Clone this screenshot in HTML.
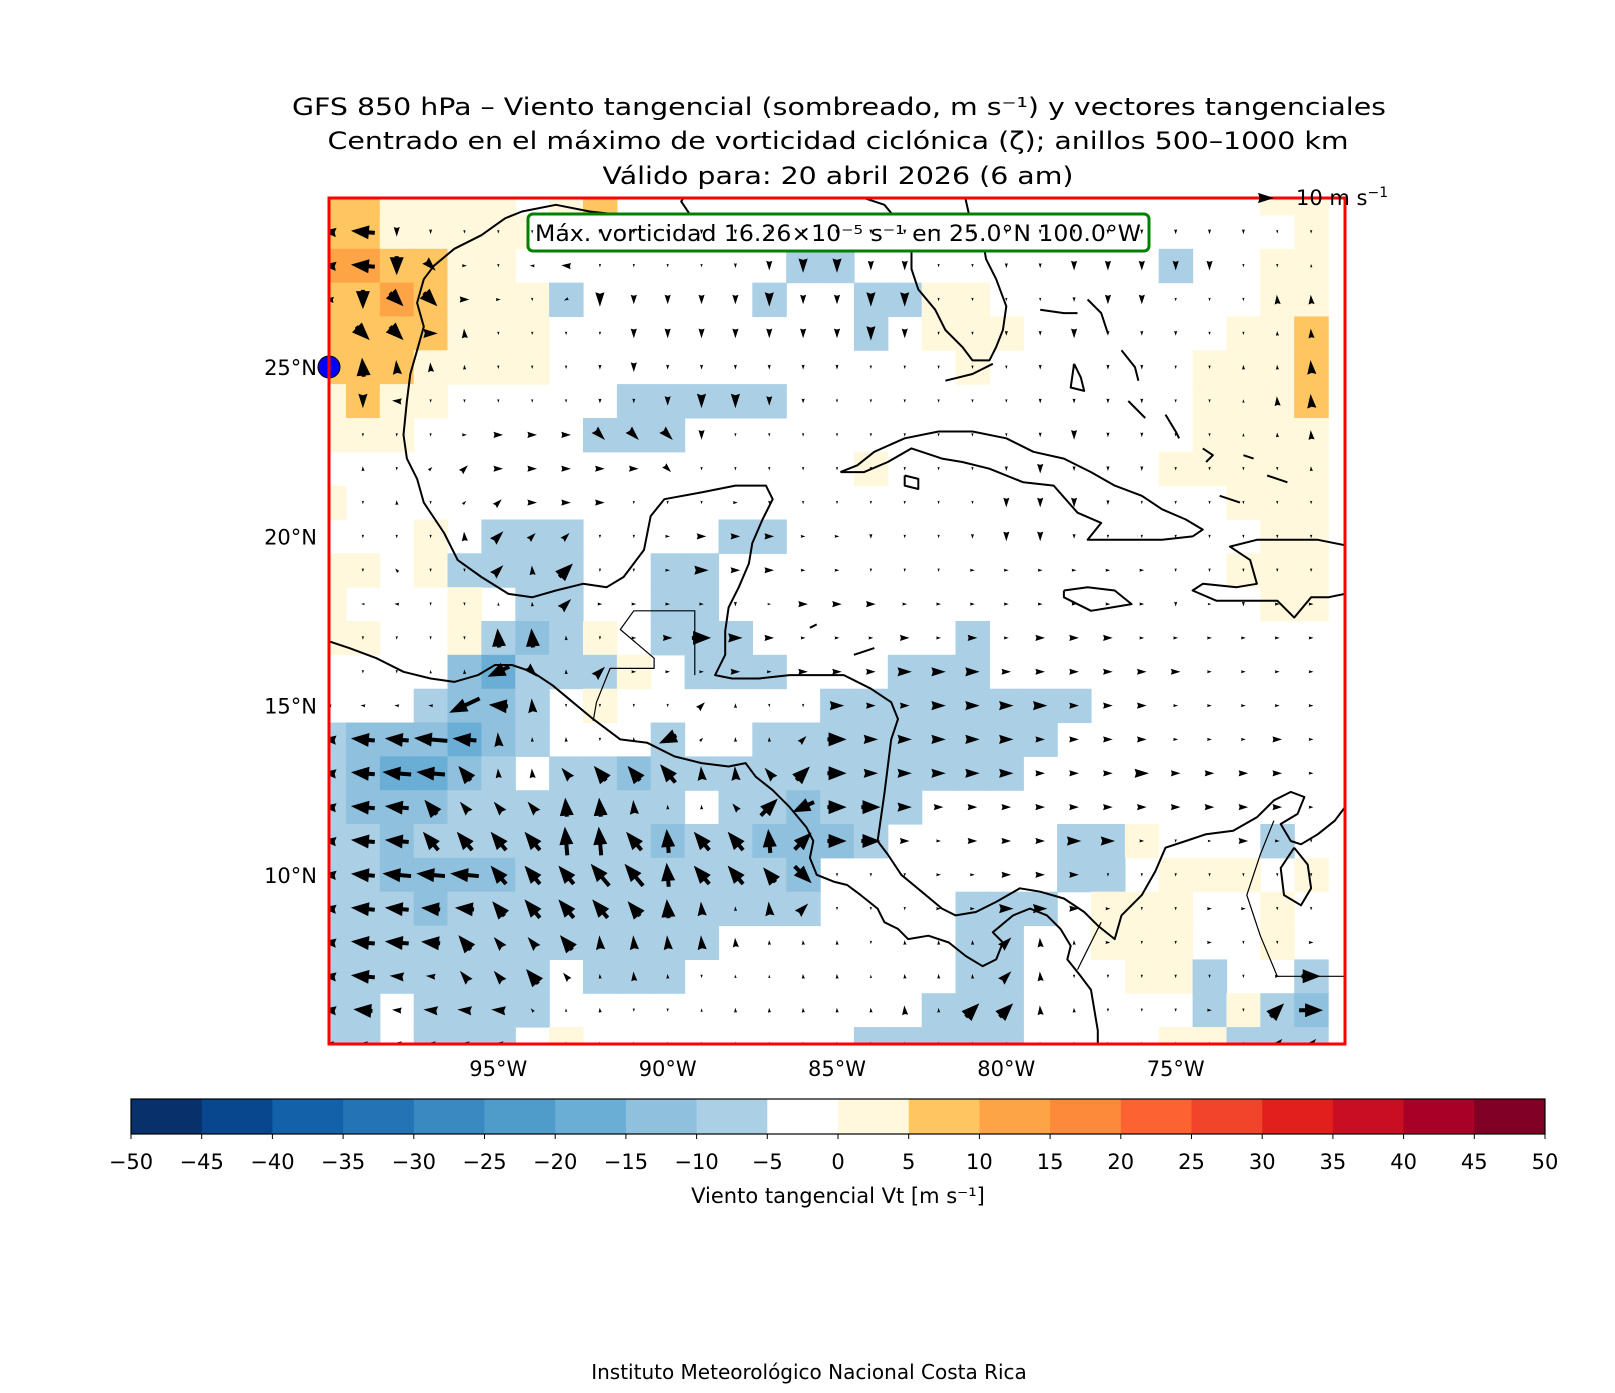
<!DOCTYPE html>
<html><head><meta charset="utf-8"><title>GFS 850 hPa Viento tangencial</title>
<style>
html,body{margin:0;padding:0;background:#fff;}
svg{display:block;font-family:"DejaVu Sans","Liberation Sans",sans-serif;}
</style></head>
<body>
<svg id="fig" width="1615" height="1393" viewBox="0 0 1615 1393" xmlns="http://www.w3.org/2000/svg">
<rect x="0" y="0" width="1615" height="1393" fill="#fff"/>
<g font-size="24" fill="#000" text-anchor="middle">
<text x="839" y="115" textLength="1094" lengthAdjust="spacingAndGlyphs">GFS 850 hPa – Viento tangencial (sombreado, m s⁻¹) y vectores tangenciales</text>
<text x="838" y="149" textLength="1021" lengthAdjust="spacingAndGlyphs">Centrado en el máximo de vorticidad ciclónica (ζ); anillos 500–1000 km</text>
<text x="838" y="184" textLength="471" lengthAdjust="spacingAndGlyphs">Válido para: 20 abril 2026 (6 am)</text>
</g>
<defs><clipPath id="plotclip"><rect x="329" y="198" width="1016" height="846"/></clipPath></defs>
<g id="shade" clip-path="url(#plotclip)"></g>
<g id="coast" clip-path="url(#plotclip)" fill="none" stroke="#000" stroke-width="2" stroke-linejoin="round"></g>
<g id="infobox">
<rect x="528" y="214" width="621" height="37" rx="5" fill="#fff" stroke="#008000" stroke-width="3"/>
<text x="838" y="241" font-size="22" text-anchor="middle" textLength="606" lengthAdjust="spacingAndGlyphs">Máx. vorticidad 16.26×10⁻⁵ s⁻¹ en 25.0°N 100.0°W</text>
</g>
<g id="vectors" clip-path="url(#plotclip)" fill="#000"></g>
<circle cx="329" cy="367" r="11" fill="#0000ff" stroke="#000" stroke-width="1"/>
<rect x="329" y="198" width="1016" height="846" fill="none" stroke="#ff0000" stroke-width="3"/>
<g id="quiverkey">
<text x="1296" y="205" font-size="21">10 m s<tspan font-size="14" dy="-8">−1</tspan></text>
</g>
<g id="axes" font-size="21"></g>
<g id="cbar"></g>
<text x="838" y="1203" font-size="21" text-anchor="middle">Viento tangencial Vt [m s⁻¹]</text>
<text x="809" y="1379" font-size="20" text-anchor="middle">Instituto Meteorológico Nacional Costa Rica</text>
</svg>
<script>
// ---------- data ----------
const shadeLats = [30,29,28,27,26,25,24,23,22,21,20,19,18,17,16,15,14,13,12,11,10,9,8,7,6,5];
const shadeLonStart = -100;
// run-length encoded rows (count + code), 30 cells per row, lon -100..-71
const shadeRowsRLE = [
"2o4y1.1y1o19.2y",
"2o5y16.1b5.1y",
"2O2o2y8.2b9.1b2.2y",
"2o1O1o3y1b5.1b2.2b2y8.2y",
"4o3y9.1b1.3y6.2y1o",
"3o4y12.1y6.3y1o",
"1y1o2y5.5b12.3y1o",
"3y5.3b15.4y",
"16.1y8.5y",
"1y26.3y",
"3.1y1.3b4.2b14.2y",
"2y1.1y4b2.2b15.3y",
"1y3.1y1.2b2.2b16.2y",
"2y2.1y1b1B1b1y1.3b6.1b10.",
"4.1B1C3b1y1.3b3.3b10.",
"3.1b2B1b1.1y6.8b7.",
"1b3B1C1B1b3.1b2.9b8.",
"1b1B2C1B1b1.2b1B4b7b9.",
"1b3B7b1.2b1B3b12.",
"2b1B7b1B2b3B1b5.2b1y3.1b1.",
"2b4B8b1B7.2b1.3y1.1y",
"3b1B11b4.3b1.3y2.1y1.",
"12b7.2b2.3y2.1y1.",
"7b1.3b8.2b3.2y1b2.1b",
"2b1.4b11.3b5.1b1y1b1B",
"2b1.3b1.1y8.5b4.2y3b"
];
const shadeCodes = ["C","B","b",".","y","o","O"];
const shadeValues = [-17.5,-12.5,-7.5,-2.5,2.5,7.5,12.5];

const vecLats = [29,28,27,26,25,24,23,22,21,20,19,18,17,16,15,14,13,12,11,10,9,8,7,6,5];
const vecLons = [-100,-99,-98,-97,-96,-95,-94,-93,-92,-91,-90,-89,-88,-87,-86,-85,-84,-83,-82,-81,-80,-79,-78,-77,-76,-75,-74,-73,-72,-71];
const vecDirRows = [
"lldd...ddddddddddddddddddddd..",
"lldcr.ll....dddddd..ddddddd..u",
"ldccrr.zdddddddddd....ddd...uu",
".ccru....ddddddddd..dddddd..uu",
".uuuu...dddddddd.....dddd..uuu",
".dl....dddddddd......dddd..uuu",
"....rrrrcccd..d......dddd..uuu",
".u.eerrrrrc.........ddddd....u",
"..u.eerrr...r......dddddd.....",
"....ueee..rrrrrrd..dddd.......",
"..q..eue..rrrrrr...rrrrrr.....",
".ll..uuerrrr.rrrrrrrrrrrr.r.rr",
".....uuu.rrrrrrrrrrrrrrrrrrrrr",
"...uuzcuerrrrrrrrrrrrrrrrrrrrr",
"llllzlu....eu..rrrrrrrrrrrrrrr",
"llllluuu.uzeuuerrrrrrrrrrrrrrr",
"llllquuqqqquuqerrrrrrrrrrrrrrr",
"lllqqqquuuuuqezrrrrrrrrrrrrrrr",
"lllqqqquuquqquerrrrrrrrrr.rrr.",
"lllllqqqqquqqqc...rrrrr.......",
"lllllqqqqquuuue...rrrrrr..rr..",
"llllqqqquuuuuuuu.uuueuur..r..r",
"llllqqqquuu.uuuuuuuueu......rr",
"llllllquu..uuuuuuuueeuu...r.er",
"llllllluuuuuuuuuuuuuuuuuuuuuee"
];
const vecSpeedClassRows = [
"352100011111111111111111111100",
"354310120000123322001122222000",
"244421013222232233000012200022",
"044320000222222232001121110012",
"043210001211111100000111100113",
"032000001123321000000111100023",
"000012223332000000000121100012",
"010122222220000000001211100001",
"001012222000100000002221000000",
"000023220012221110012210000000",
"001003240013221100011111100000",
"001000131111102221111111110111",
"000004410124321112121222111111",
"000015313111212223332222221111",
"111174300002100322333322211111",
"355753110141112433333222211121",
"356642234453334433333222322221",
"355433344311255443222222222221",
"355555566555555442122233100210",
"356665556655545000112220000000",
"355444555443133000113321001100",
"355443343333211101113211001001",
"353233421210001101113200000014",
"342333101000111112144210001045",
"222222111111111111111111111133"
];
const speedPerClass = 3;      // m/s per speed class
const refSpeed = 10;          // quiver key (m/s)

const cbarLevels = [-50,-45,-40,-35,-30,-25,-20,-15,-10,-5,0,5,10,15,20,25,30,35,40,45,50];
const cbarColors = ["#08306b","#08478d","#1361a9","#2473b5","#3a89c1","#4f9cca","#6aaed6","#8fc1de","#abd0e6","#ffffff","#fff8dc","#fec561","#fda446","#fc8a3a","#fc6232","#f2432b","#e31f1d","#c90d22","#a80026","#800026"];

const xTickLons = [-95,-90,-85,-80,-75];
const xTickLabels = ["95°W","90°W","85°W","80°W","75°W"];
const yTickLats = [25,20,15,10];
const yTickLabels = ["25°N","20°N","15°N","10°N"];

const coastLines = [
 [[-88.3,30.5],[-89.4,30.2],[-89.6,29.9],[-89.2,29.3],[-89.9,29.1],[-90.6,29.2],[-91.4,29.5],[-92.3,29.6],[-93.3,29.8],[-94.3,29.6],[-94.8,29.4],[-95.5,28.9],[-96.3,28.5],[-96.9,28.0],[-97.2,27.6],[-97.4,26.9],[-97.2,26.2],[-97.4,25.5],[-97.6,24.8],[-97.7,24.0],[-97.8,23.0],[-97.7,22.3],[-97.4,21.7],[-97.2,21.0],[-96.6,20.1],[-96.2,19.3],[-95.5,18.8],[-94.7,18.3],[-94.0,18.2],[-93.3,18.4],[-92.5,18.6],[-91.8,18.5],[-91.3,18.8],[-90.7,19.6],[-90.5,20.6],[-90.1,21.1],[-89.0,21.3],[-88.0,21.5],[-87.1,21.5],[-86.9,21.1],[-87.2,20.5],[-87.5,19.8],[-87.6,19.2],[-87.9,18.5],[-88.2,17.9],[-88.3,17.2],[-88.3,16.5],[-88.6,15.9],[-88.1,15.8],[-87.3,15.8],[-86.4,15.9],[-85.5,15.9],[-84.8,15.9],[-84.0,15.5],[-83.4,15.1],[-83.2,14.6],[-83.4,14.0],[-83.5,13.2],[-83.6,12.4],[-83.7,11.7],[-83.8,11.0],[-83.5,10.6],[-83.1,10.0],[-82.5,9.5],[-81.9,9.0],[-81.5,8.8],[-80.9,8.9],[-80.3,9.2],[-79.6,9.6],[-79.0,9.5],[-78.3,9.3],[-77.7,8.9],[-77.3,8.5],[-76.8,8.1],[-76.6,8.8],[-76.0,9.4],[-75.6,10.1],[-75.3,10.8],[-74.7,11.0],[-74.1,11.2],[-73.3,11.3],[-72.6,11.7],[-72.1,12.2],[-71.6,12.45],[-71.2,12.3],[-71.4,11.8],[-71.9,11.5],[-71.6,11.0],[-71.3,10.9],[-70.8,11.2],[-70.3,11.6],[-70.0,12.0],[-69.8,12.2]],
 [[-100.3,17.0],[-99.4,16.7],[-98.6,16.4],[-97.8,16.0],[-97.0,15.8],[-96.3,15.7],[-95.6,15.9],[-95.1,16.2],[-94.6,16.2],[-94.0,16.0],[-93.4,15.6],[-92.8,15.1],[-92.2,14.6],[-91.4,14.0],[-90.6,13.9],[-89.8,13.5],[-89.0,13.3],[-88.2,13.2],[-87.7,13.3],[-87.4,12.9],[-86.9,12.5],[-86.4,12.0],[-85.9,11.4],[-85.7,11.0],[-85.8,10.5],[-85.6,10.0],[-85.1,9.8],[-84.7,9.7],[-84.3,9.4],[-83.8,9.0],[-83.6,8.6],[-83.2,8.4],[-82.9,8.1],[-82.3,8.2],[-81.7,8.0],[-81.2,7.6],[-80.7,7.3],[-80.3,7.5],[-80.1,8.0],[-80.4,8.3],[-79.8,8.8],[-79.3,9.0],[-78.8,8.8],[-78.4,8.4],[-78.1,7.9],[-78.2,7.5],[-77.8,7.0],[-77.5,6.6],[-77.4,6.0],[-77.3,5.4],[-77.3,4.7]],
 [[-84.8,30.3],[-84.2,30.0],[-83.6,29.8],[-83.1,29.2],[-82.8,28.6],[-82.8,27.9],[-82.6,27.3],[-82.1,26.7],[-81.8,26.1],[-81.3,25.6],[-81.0,25.2],[-80.5,25.2],[-80.3,25.6],[-80.1,26.1],[-80.0,26.8],[-80.3,27.6],[-80.6,28.2],[-80.7,28.8],[-81.1,29.5],[-81.3,30.4]],
 [[-80.4,25.1],[-81.0,24.8],[-81.8,24.6]],
 [[-84.9,21.9],[-84.4,22.1],[-83.9,22.5],[-83.0,22.9],[-82.0,23.1],[-81.0,23.1],[-80.0,22.9],[-79.2,22.5],[-78.3,22.3],[-77.5,21.9],[-76.8,21.5],[-76.0,21.2],[-75.4,20.8],[-74.7,20.5],[-74.2,20.2],[-74.5,20.0],[-75.4,19.9],[-76.4,19.9],[-77.6,19.9],[-77.2,20.4],[-77.9,20.7],[-78.6,21.5],[-79.5,21.6],[-80.5,22.0],[-81.3,22.2],[-81.9,22.3],[-82.8,22.6],[-83.5,22.2],[-84.2,21.9],[-84.9,21.9]],
 [[-83.0,21.8],[-82.6,21.7],[-82.6,21.4],[-83.0,21.5],[-83.0,21.8]],
 [[-78.3,18.4],[-77.6,18.5],[-76.8,18.4],[-76.3,18.0],[-76.9,17.9],[-77.5,17.8],[-78.3,18.2],[-78.3,18.4]],
 [[-69.8,19.7],[-70.8,19.9],[-71.7,19.9],[-72.6,19.9],[-73.4,19.7],[-72.8,19.3],[-72.6,18.6],[-73.2,18.5],[-74.2,18.6],[-74.5,18.4],[-73.8,18.1],[-72.9,18.1],[-72.0,18.1],[-71.5,17.6],[-71.0,18.2],[-70.5,18.2],[-70.0,18.3],[-69.8,18.4]],
 [[-79.0,26.7],[-78.3,26.6],[-77.9,26.6]],
 [[-77.6,27.0],[-77.2,26.6],[-77.0,26.0]],
 [[-78.0,25.1],[-77.8,24.7],[-77.7,24.3],[-78.1,24.4],[-78.0,25.1]],
 [[-76.6,25.5],[-76.2,25.0],[-76.1,24.6]],
 [[-76.4,24.0],[-75.9,23.5]],
 [[-75.3,23.6],[-75.0,23.1],[-74.9,22.9]],
 [[-74.2,22.6],[-73.9,22.4],[-74.1,22.2]],
 [[-73.7,21.2],[-73.1,21.0]],
 [[-72.3,21.8],[-71.7,21.6]],
 [[-73.0,22.4],[-72.7,22.3]],
 [[-85.8,17.3],[-85.6,17.4]],[[-84.5,16.5],[-83.9,16.7]],
 [[-71.5,10.8],[-71.9,10.2],[-71.8,9.4],[-71.3,9.1],[-71.0,9.6],[-71.1,10.3],[-71.5,10.8]]
];
const borderLines = [
 [[-92.2,14.55],[-92.1,15.1],[-91.7,16.1],[-90.4,16.1],[-90.4,16.4],[-91.4,17.25],[-91.0,17.8],[-89.2,17.8],[-89.2,15.9]],
 [[-72.1,11.6],[-72.5,10.6],[-72.9,9.4],[-72.5,8.2],[-72.0,7.0],[-71.0,7.0],[-70.0,7.0]],
 [[-77.9,7.2],[-77.2,8.6]]
];

// ---------- axis functions ----------
const X0 = 329, Y0 = 198, PW = 1016, PH = 846, LON0 = -100, LON1 = -70, LAT0 = 5, LAT1 = 30;
function xOf(lon){ return X0 + (lon - LON0) / (LON1 - LON0) * PW; }
function yOf(lat){ return Y0 + (LAT1 - lat) / (LAT1 - LAT0) * PH; }
const pxPerMs = 1.6;
const NS = "http://www.w3.org/2000/svg";
function mk(tag, attrs){ const e = document.createElementNS(NS, tag); for (const k in attrs) e.setAttribute(k, attrs[k]); return e; }
function decodeRLE(s){
  let out = "", num = "";
  for (const ch of s){
    if (ch >= "0" && ch <= "9") num += ch;
    else { out += ch.repeat(parseInt(num || "1", 10)); num = ""; }
  }
  return out;
}
function colorFor(v){
  for (let i = 0; i < cbarColors.length; i++){
    if (v >= cbarLevels[i] && v < cbarLevels[i+1]) return cbarColors[i];
  }
  return "#fff";
}

// ---------- shading ----------
const gShade = document.getElementById("shade");
for (let r = 0; r < shadeRowsRLE.length; r++){
  const lat = shadeLats[r];
  const row = decodeRLE(shadeRowsRLE[r]);
  for (let c = 0; c < row.length && c < 30; c++){
    const code = row[c];
    const idx = shadeCodes.indexOf(code);
    if (idx < 0 || code === ".") continue;
    const lon = shadeLonStart + c;
    const x1 = xOf(lon - 0.5), x2 = xOf(lon + 0.5), y1 = yOf(lat + 0.5), y2 = yOf(lat - 0.5);
    const cell = mk("rect", {x: x1.toFixed(1), y: y1.toFixed(1), width: (x2 - x1 + 0.6).toFixed(1), height: (y2 - y1 + 0.6).toFixed(1), fill: colorFor(shadeValues[idx])});
    
    
    gShade.appendChild(cell);
  }
}

// ---------- coastlines ----------
const gCoast = document.getElementById("coast");
function pathFrom(pts){ return pts.map((p, i) => (i ? "L" : "M") + xOf(p[0]).toFixed(1) + " " + yOf(p[1]).toFixed(1)).join(" "); }
coastLines.forEach(pts => {
  const p = mk("path", {d: pathFrom(pts)});
  
  
  gCoast.appendChild(p);
});
borderLines.forEach(pts => {
  const p = mk("path", {d: pathFrom(pts), "stroke-width": "1.2"});
  
  
  gCoast.appendChild(p);
});

// ---------- vectors ----------
const dirAngles = {r:0, e:45, u:95, q:130, l:175, z:205, d:270, c:315};
function arrowPoints(cx, cy, angDeg, L){
  const a = angDeg * Math.PI / 180;
  const ux = Math.cos(a), uy = -Math.sin(a);
  const px = -uy, py = ux;
  const tx = cx - ux * L / 2, ty = cy - uy * L / 2;
  const hx = cx + ux * L / 2, hy = cy + uy * L / 2;
  const HL = 18;
  let pts;
  if (L <= HL){
    const w = 0.32 * L;
    const nx = tx + ux * L * 0.1, ny = ty + uy * L * 0.1;
    pts = [[hx, hy], [tx + px * w, ty + py * w], [nx, ny], [tx - px * w, ty - py * w]];
  } else {
    const bx = hx - ux * HL, by = hy - uy * HL;
    pts = [[tx + px * 2, ty + py * 2], [bx + px * 2, by + py * 2], [bx + px * 7, by + py * 7], [hx, hy], [bx - px * 7, by - py * 7], [bx - px * 2, by - py * 2], [tx - px * 2, ty - py * 2]];
  }
  return pts.map(p => p[0].toFixed(1) + "," + p[1].toFixed(1)).join(" ");
}
const gVec = document.getElementById("vectors");
for (let r = 0; r < vecLats.length; r++){
  const lat = vecLats[r];
  for (let c = 0; c < vecLons.length; c++){
    const lon = vecLons[c];
    const dch = vecDirRows[r][c];
    const cls = parseInt(vecSpeedClassRows[r][c] || "0", 10);
    const speed = cls * speedPerClass;
    const cx = xOf(lon), cy = yOf(lat);
    let L = speed * pxPerMs;
    const ang = dirAngles[dch] !== undefined ? dirAngles[dch] : 270;
    if (L < 3.5) L = 3.5;
    const arrow = mk("polygon", {points: arrowPoints(cx, cy, ang, L)});
    
    
    gVec.appendChild(arrow);
  }
}

const gKey = document.getElementById("quiverkey");
const keyArrow = mk("polygon", {points: arrowPoints(1266, 198, 0, refSpeed * pxPerMs)});


gKey.appendChild(keyArrow);

// ---------- axis labels ----------
const gAx = document.getElementById("axes");
xTickLons.forEach((lon, i) => {
  const t = mk("text", {x: xOf(lon).toFixed(1), y: 1076, "text-anchor": "middle"});
  t.textContent = xTickLabels[i];
  
  
  gAx.appendChild(t);
});
yTickLats.forEach((lat, i) => {
  const t = mk("text", {x: 317, y: (yOf(lat) + 8).toFixed(1), "text-anchor": "end"});
  t.textContent = yTickLabels[i];
  
  
  gAx.appendChild(t);
});

// ---------- colorbar ----------
const gCb = document.getElementById("cbar");
const CBX0 = 131, CBX1 = 1545, CBY = 1099, CBH = 35;
function cbX(v){ return CBX0 + (v - cbarLevels[0]) / (cbarLevels[cbarLevels.length - 1] - cbarLevels[0]) * (CBX1 - CBX0); }
for (let i = 0; i < cbarColors.length; i++){
  const x1 = cbX(cbarLevels[i]), x2 = cbX(cbarLevels[i+1]);
  const seg = mk("rect", {x: x1.toFixed(1), y: CBY, width: (x2 - x1 + 0.5).toFixed(1), height: CBH, fill: cbarColors[i]});
  
  
  gCb.appendChild(seg);
}
const cbFrame = mk("rect", {x: CBX0, y: CBY, width: CBX1 - CBX0, height: CBH, fill: "none", stroke: "#000", "stroke-width": "1.2"});


gCb.appendChild(cbFrame);
cbarLevels.forEach(v => {
  const x = cbX(v);
  const tk = mk("line", {x1: x.toFixed(1), x2: x.toFixed(1), y1: CBY + CBH, y2: CBY + CBH + 5, stroke: "#000", "stroke-width": "1"});
  
  
  gCb.appendChild(tk);
  const t = mk("text", {x: x.toFixed(1), y: CBY + CBH + 35, "text-anchor": "middle", "font-size": "21"});
  t.textContent = (v < 0 ? "\u2212" + Math.abs(v) : String(v));
  
  
  gCb.appendChild(t);
});
</script>
</body></html>
